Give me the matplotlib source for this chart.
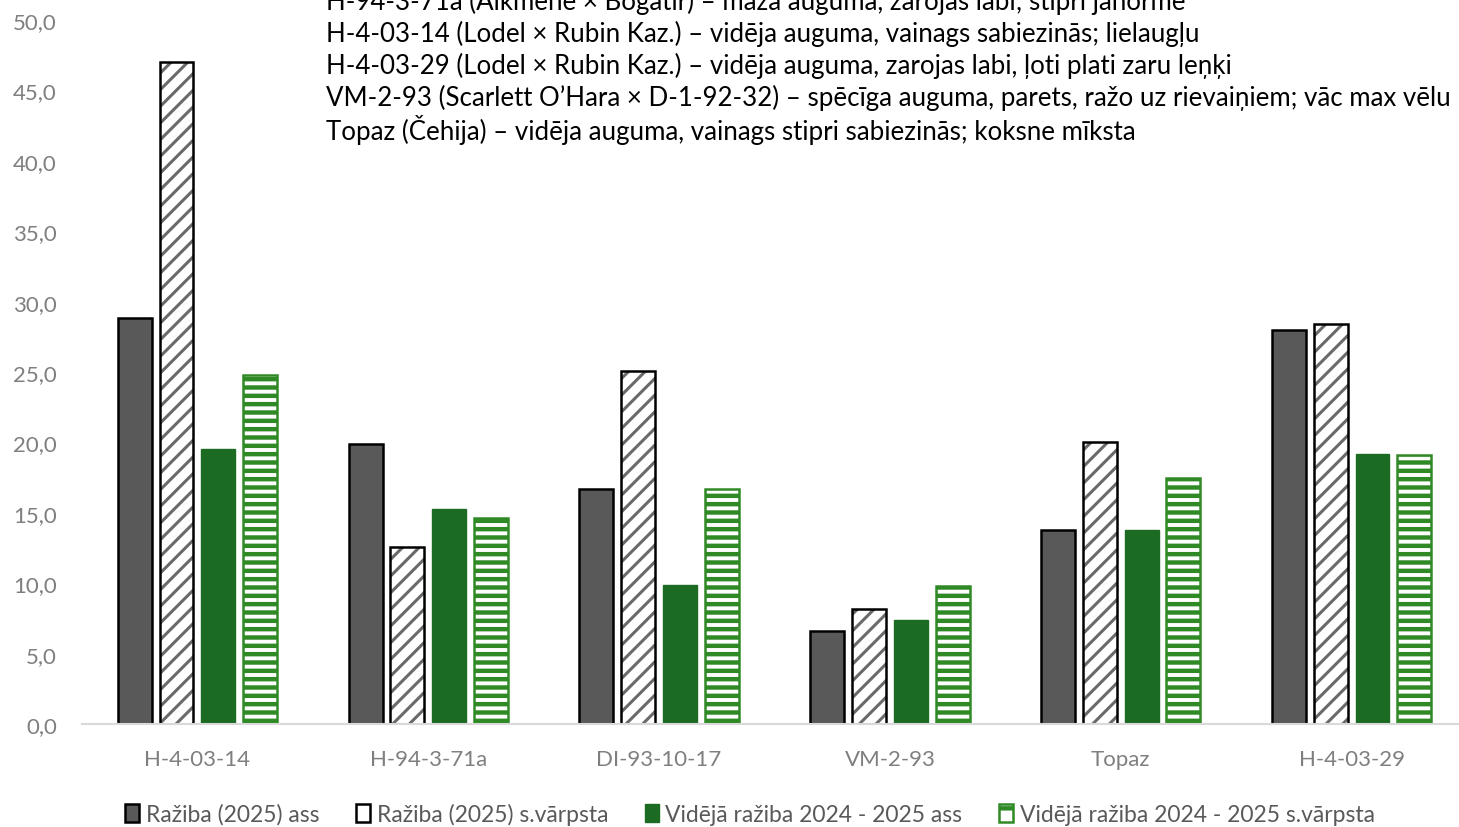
import matplotlib.pyplot as plt
import numpy as np
from matplotlib.patches import Patch

# Šķirnes / hibrīdi
varieties = ["H-4-03-14", "H-94-3-71a", "DI-93-10-17", "VM-2-93", "Topaz", "H-4-03-29"]

# Ražība pa gadiem un vidējā, kg no koka
raziba_2025_ass = [28.8, 19.9, 16.7, 6.6, 13.8, 28.0]
raziba_2025_svarpsta = [47.0, 12.6, 25.1, 8.2, 20.0, 28.4]
videja_ass = [19.5, 15.3, 9.9, 7.4, 13.8, 19.2]
videja_svarpsta = [24.8, 14.6, 16.7, 9.8, 17.5, 19.1]

series_names = [
    "Ražiba (2025) ass",
    "Ražiba (2025) s.vārpsta",
    "Vidējā ražiba 2024 - 2025 ass",
    "Vidējā ražiba 2024 - 2025 s.vārpsta",
]

notes = [
    "H-94-3-71a (Alkmene × Bogatir) – maza auguma, zarojas labi; stipri jānormē",
    "H-4-03-14 (Lodel × Rubin Kaz.) – vidēja auguma, vainags sabiezinās; lielaugļu",
    "H-4-03-29 (Lodel × Rubin Kaz.) – vidēja auguma, zarojas labi, ļoti plati zaru leņķi",
    "VM-2-93 (Scarlett O’Hara × D-1-92-32) – spēcīga auguma, parets, ražo uz rievaiņiem; vāc max vēlu",
    "Topaz (Čehija) – vidēja auguma, vainags stipri sabiezinās; koksne mīksta",
]

plt.rcParams['font.family'] = ['Lato', 'DejaVu Sans']

dark = '#595959'
green = '#1b6b23'
green_edge = '#2f8a26'
tick_grey = '#7f7f7f'

fig = plt.figure(figsize=(14.59, 8.28), dpi=100)
ax = fig.add_axes([82 / 1459, 103 / 828, 1385 / 1459, 704 / 828])

x = np.arange(len(varieties))
w = 0.147
step = 0.181
offs = [-1.5 * step, -0.5 * step, 0.5 * step, 1.5 * step]

# tumši pelēkie stabiņi
ax.bar(x + offs[0], raziba_2025_ass, w, color=dark, edgecolor='black', linewidth=1.8)

# slīpi svītrotie stabiņi: svītras pelēkas, kontūra melna
plt.rcParams['hatch.linewidth'] = 2.2
ax.bar(x + offs[1], raziba_2025_svarpsta, w, color='white', edgecolor='#6a6a6a',
       hatch='//', linewidth=0)
ax.bar(x + offs[1], raziba_2025_svarpsta, w, color='none', edgecolor='black', linewidth=1.8)

# zaļie stabiņi
ax.bar(x + offs[2], videja_ass, w, color=green, edgecolor=green, linewidth=1)

# horizontāli svītrotie zaļie stabiņi
plt.rcParams['hatch.linewidth'] = 3.2
ax.bar(x + offs[3], videja_svarpsta, w, color='white', edgecolor=green_edge,
       hatch='--', linewidth=1.8)

ax.set_ylim(0, 50)
ax.set_xlim(-0.5, len(varieties) - 0.5)
ax.set_yticks(np.arange(0, 50.1, 5))
ax.set_yticklabels([f"{v:.1f}".replace('.', ',') for v in np.arange(0, 50.1, 5)])
ax.set_xticks(x)
ax.set_xticklabels(varieties)
ax.tick_params(axis='both', length=0, colors=tick_grey, labelsize=16)
ax.tick_params(axis='y', pad=18)
ax.tick_params(axis='x', pad=18)
for s in ['top', 'right', 'left']:
    ax.spines[s].set_visible(False)
ax.spines['bottom'].set_color('#d9d9d9')
ax.spines['bottom'].set_linewidth(1.5)

# piezīmes augšā
for i, line in enumerate(notes):
    fig.text(326 / 1459, 1 - (2 + 32 * i) / 828, line, fontsize=18.6, color='black',
             va='center', ha='left')

# leģenda
handles = [
    Patch(facecolor=dark, edgecolor='black', linewidth=1.8),
    Patch(facecolor='white', edgecolor='black', linewidth=1.8),
    Patch(facecolor=green, edgecolor=green),
    Patch(facecolor='white', edgecolor=green_edge, linewidth=1.8, hatch='-'),
]
leg = fig.legend(handles, series_names, loc='center', bbox_to_anchor=(750 / 1459, 1 - 815 / 828),
                 ncol=4, frameon=False, fontsize=16.5, handlelength=0.6, handleheight=0.8,
                 handletextpad=0.3, columnspacing=1.6)
for t in leg.get_texts():
    t.set_color('#595959')

fig.savefig('out.png', dpi=100)
